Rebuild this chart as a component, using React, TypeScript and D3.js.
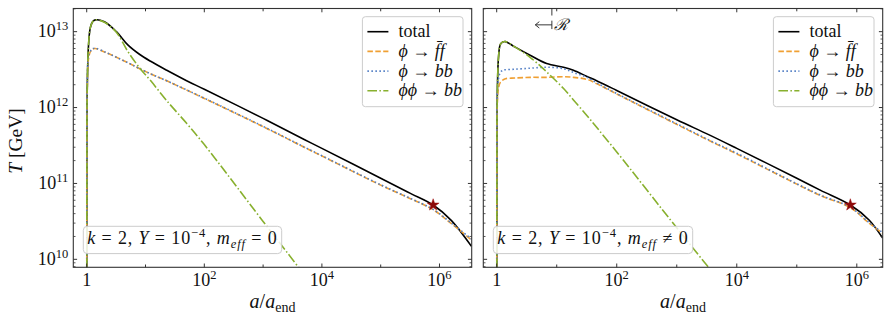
import React, { useEffect, useRef } from 'react';
import * as d3 from 'd3';

// a/a_end grid and temperatures in GeV
const aLeft = [1, 1.007, 1.02, 1.07, 1.15, 1.26, 1.4, 2, 3.2, 5, 8, 12, 23, 50, 100, 1e3, 5e3, 1e4, 1e5, 3.2e5, 7.8e5, 1.6e6, 3.5e6];
const totalLeft = [1e8, 1.0e11, 1.6e12, 6.3e12, 1.12e13, 1.35e13, 1.43e13, 1.35e13, 1.0e13, 6.7e12, 5.0e12, 4.1e12, 3.1e12, 2.26e12, 1.74e12, 7.2e11, 3.8e11, 2.9e11, 1.17e11, 7.4e10, 5.2e10, 3.24e10, 1.48e10];
const ffLeft = [1e8, 2e11, 1.6e12, 4.3e12, 5.4e12, 5.9e12, 6.0e12, 5.4e12, 4.6e12, 3.9e12, 3.25e12, 2.8e12, 2.25e12, 1.7e12, 1.32e12, 5.6e11, 3.0e11, 2.3e11, 9.5e10, 6.3e10, 4.5e10, 2.95e10, 1.8e10];
const bbLeft = [1e8, 3e11, 2.2e12, 4.6e12, 5.5e12, 5.95e12, 6.05e12, 5.45e12, 4.6e12, 3.9e12, 3.25e12, 2.8e12, 2.25e12, 1.71e12, 1.33e12, 5.65e11, 3.02e11, 2.32e11, 9.6e10, 6.35e10, 4.55e10, 3.0e10, 1.85e10];
const phiphiLeft = [1e8, 1.0e11, 1.6e12, 6.3e12, 1.12e13, 1.35e13, 1.43e13, 1.33e13, 9.8e12, 5.5e12, 3.3e12, 2.3e12, 1.23e12, 6.2e11, 3.25e11, 3.16e10, 6.3e9, null, null, null, null, null, null];

const aRight = [1, 1.007, 1.02, 1.07, 1.15, 1.26, 1.4, 2, 3.6, 6.8, 13, 19, 32, 47, 100, 1e3, 3.4e3, 1e4, 1e5, 2.5e5, 7.8e5, 1.6e6, 2.7e6];
const totalRight = [1e8, 8e10, 1.2e12, 4.5e12, 6.8e12, 7.3e12, 7.4e12, 6.3e12, 4.9e12, 3.8e12, 3.4e12, 3.1e12, 2.57e12, 2.24e12, 1.68e12, 6.9e11, 4.4e11, 2.9e11, 1.17e11, 8.1e10, 5.2e10, 3.3e10, 1.9e10];
const ffRight = [1e8, 1.3e11, 1.0e12, 1.8e12, 2.15e12, 2.3e12, 2.4e12, 2.45e12, 2.5e12, 2.5e12, 2.55e12, 2.5e12, 2.35e12, 2.05e12, 1.51e12, 6.0e11, 3.7e11, 2.45e11, 9.8e10, 6.9e10, 4.8e10, 3.0e10, 2.2e10];
const bbRight = [1e8, 2e11, 1.5e12, 2.4e12, 2.9e12, 3.1e12, 3.15e12, 3.2e12, 3.3e12, 3.4e12, 3.25e12, 2.9e12, 2.5e12, 2.1e12, 1.53e12, 6.1e11, 3.75e11, 2.5e11, 9.9e10, 7.0e10, 4.85e10, 3.05e10, 2.25e10];
const phiphiRight = [1e8, 8e10, 1.2e12, 4.5e12, 6.8e12, 7.3e12, 7.4e12, 6.3e12, 4.6e12, 2.95e12, 1.78e12, 1.26e12, 7.8e11, 5.4e11, 2.6e11, 2.6e10, 7.8e9, null, null, null, null, null, null];

// reheating point (star)
const aRH = 7.8e5;
const TRH = 5.2e10;

// arrow annotation in right panel
const annotA = [4.4, 8.3];
const annotT = 1.23e13;

const xTicks = [1, 1e1, 1e2, 1e3, 1e4, 1e5, 1e6];
const xTickExp = ['0', '1', '2', '3', '4', '5', '6'];
const yTicks = [1e10, 1e11, 1e12, 1e13];
const yTickExp = ['10', '11', '12', '13'];

const legendLabels = ['total', 'ff', 'bb', 'phiphi'];

const TOP = 8.5;
const BOTTOM = 267.3;
const yDomain = [7.85e9, 2.02e13];
const SERIF = "'Liberation Serif', 'DejaVu Serif', serif";

const styles = [
  { color: '#000000', width: 1.6, dash: null },
  { color: '#f0a033', width: 1.6, dash: '5.5,2.4' },
  { color: '#4f7cc4', width: 1.6, dash: '1.5,2.5' },
  { color: '#88b02e', width: 1.6, dash: '9.6,2.4,1.5,2.4' },
];

const panels = [
  { left: 73.3, right: 471.7, xDomain: [0.5916, 3.53e6], a: aLeft, series: [totalLeft, ffLeft, bbLeft, phiphiLeft], neq: false, yLabels: true, annot: false },
  { left: 483.3, right: 882.7, xDomain: [0.598, 2.7e6], a: aRight, series: [totalRight, ffRight, bbRight, phiphiRight], neq: true, yLabels: false, annot: true },
];

function powLabel(g: any, x: number, y: number, exp: string, anchor: string) {
  const t = g.append('text').attr('x', x).attr('y', y).attr('text-anchor', anchor)
    .attr('font-family', SERIF).attr('font-size', 18).attr('fill', '#111');
  if (exp === '0') { t.text('1'); return; }
  t.append('tspan').text('10');
  t.append('tspan').attr('dy', -7).attr('font-size', 12.5).text(exp);
}

function legendText(t: any, key: string) {
  if (key === 'total') { t.text('total'); return; }
  const it = (s: string) => t.append('tspan').attr('font-style', 'italic').text(s);
  const up = (s: string) => t.append('tspan').text(s);
  if (key === 'ff') { it('ϕ'); up(' → '); it('f\u0304f'); }
  if (key === 'bb') { it('ϕ'); up(' → '); it('bb'); }
  if (key === 'phiphi') { it('ϕϕ'); up(' → '); it('bb'); }
}

function drawPanel(svg: any, p: any, idx: number) {
  const x = d3.scaleLog().domain(p.xDomain).range([p.left, p.right]);
  const y = d3.scaleLog().domain(yDomain).range([BOTTOM, TOP]);
  const g = svg.append('g');

  const clipId = 'clip' + idx;
  svg.append('defs').append('clipPath').attr('id', clipId).append('rect')
    .attr('x', p.left).attr('y', TOP).attr('width', p.right - p.left).attr('height', BOTTOM - TOP);

  const plot = g.append('g').attr('clip-path', `url(#${clipId})`);
  const line = d3.line<any>()
    .defined((d: any) => d[1] != null)
    .x((d: any) => x(d[0]))
    .y((d: any) => y(d[1]))
    .curve(d3.curveCatmullRom.alpha(0.5));

  styles.forEach((s, k) => {
    plot.append('path')
      .datum(p.a.map((a: number, j: number) => [a, p.series[k][j]]))
      .attr('d', line)
      .attr('fill', 'none')
      .attr('stroke', s.color)
      .attr('stroke-width', s.width)
      .attr('stroke-dasharray', s.dash)
      .attr('stroke-linejoin', 'round');
  });

  g.append('path')
    .attr('d', d3.symbol(d3.symbolStar, 44)())
    .attr('transform', `translate(${x(aRH)},${y(TRH)})`)
    .attr('fill', '#8b0a0a')
    .attr('stroke', '#a01010')
    .attr('stroke-width', 0.5);

  // frame
  g.append('rect').attr('x', p.left).attr('y', TOP).attr('width', p.right - p.left).attr('height', BOTTOM - TOP)
    .attr('fill', 'none').attr('stroke', '#333').attr('stroke-width', 1.1);

  // x ticks (inward, bottom and top)
  xTicks.forEach((t, i) => {
    const len = i % 2 === 0 ? 3.8 : 2.8;
    const px = x(t);
    g.append('line').attr('x1', px).attr('x2', px).attr('y1', BOTTOM).attr('y2', BOTTOM - len).attr('stroke', '#333');
    g.append('line').attr('x1', px).attr('x2', px).attr('y1', TOP).attr('y2', TOP + len).attr('stroke', '#333');
    if (i % 2 === 0) powLabel(g, px, 286, xTickExp[i], 'middle');
  });

  // y ticks, major and minor
  yTicks.forEach((t, i) => {
    const py = y(t);
    g.append('line').attr('x1', p.left).attr('x2', p.left + 3.8).attr('y1', py).attr('y2', py).attr('stroke', '#333');
    g.append('line').attr('x1', p.right).attr('x2', p.right - 3.8).attr('y1', py).attr('y2', py).attr('stroke', '#333');
    if (p.yLabels) powLabel(g, p.left - 5, py + 5.5, yTickExp[i], 'end');
  });
  for (let e = 9; e <= 13; e++) {
    for (let m = 2; m <= 9; m++) {
      const v = m * Math.pow(10, e);
      if (v < yDomain[0] || v > yDomain[1]) continue;
      const py = y(v);
      g.append('line').attr('x1', p.left).attr('x2', p.left + 2.2).attr('y1', py).attr('y2', py).attr('stroke', '#333').attr('stroke-width', 0.8);
      g.append('line').attr('x1', p.right).attr('x2', p.right - 2.2).attr('y1', py).attr('y2', py).attr('stroke', '#333').attr('stroke-width', 0.8);
    }
  }

  // x label
  const cx = (p.left + p.right) / 2;
  const xl = g.append('text').attr('x', cx).attr('y', 308).attr('text-anchor', 'middle')
    .attr('font-family', SERIF).attr('font-size', 20).attr('fill', '#111');
  xl.append('tspan').attr('font-style', 'italic').text('a');
  xl.append('tspan').text('/');
  xl.append('tspan').attr('font-style', 'italic').text('a');
  xl.append('tspan').attr('dy', 4).attr('font-size', 14).text('end');

  if (p.yLabels) {
    const yl = g.append('text').attr('transform', 'translate(22,141) rotate(-90)').attr('text-anchor', 'middle')
      .attr('font-family', SERIF).attr('font-size', 19.5).attr('fill', '#111');
    yl.append('tspan').attr('font-style', 'italic').text('T');
    yl.append('tspan').text(' [GeV]');
  }

  // legend
  const lw = 100.6, lh = 90;
  const lx = p.right - 8.7 - lw, ly = 16.7;
  g.append('rect').attr('x', lx).attr('y', ly).attr('width', lw).attr('height', lh).attr('rx', 3)
    .attr('fill', '#fff').attr('fill-opacity', 0.85).attr('stroke', '#cccccc').attr('stroke-width', 1);
  legendLabels.forEach((key, k) => {
    const ry = ly + 15 + k * 19.7;
    const s = styles[k];
    g.append('line').attr('x1', lx + 5).attr('x2', lx + 26).attr('y1', ry).attr('y2', ry)
      .attr('stroke', s.color).attr('stroke-width', s.width).attr('stroke-dasharray', s.dash);
    const t = g.append('text').attr('x', lx + 36).attr('y', ry + 5.5).attr('font-family', SERIF)
      .attr('font-size', 18).attr('fill', '#111');
    legendText(t, key);
  });

  // parameter box
  const bx = p.left + 10, by = 226.3, bw = p.neq ? 199.4 : 198.4, bh = 27.3;
  g.append('rect').attr('x', bx).attr('y', by).attr('width', bw).attr('height', bh).attr('rx', 4)
    .attr('fill', '#fff').attr('fill-opacity', 0.85).attr('stroke', '#cccccc').attr('stroke-width', 1);
  const bt = g.append('text').attr('x', bx + 4).attr('y', by + 18).attr('textLength', bw - 9)
    .attr('lengthAdjust', 'spacing')
    .attr('font-family', SERIF).attr('font-size', 18).attr('fill', '#111');
  bt.append('tspan').attr('font-style', 'italic').text('k');
  bt.append('tspan').text(' = 2,  ');
  bt.append('tspan').attr('font-style', 'italic').text('Y');
  bt.append('tspan').text(' = 10');
  bt.append('tspan').attr('dy', -7).attr('font-size', 12.5).text('−4');
  bt.append('tspan').attr('dy', 7).text(',  ');
  bt.append('tspan').attr('font-style', 'italic').text('m');
  bt.append('tspan').attr('dy', 3.5).attr('font-size', 12.5).attr('font-style', 'italic').text('eff');
  bt.append('tspan').attr('dy', -3.5).text(p.neq ? ' ≠ 0' : ' = 0');

  if (p.annot) {
    const ax0 = x(annotA[0]), ax1 = x(annotA[1]), ay = y(annotT);
    g.append('path')
      .attr('d', `M${ax1},${ay}H${ax0}M${ax0 + 4},${ay - 3.2}L${ax0},${ay}L${ax0 + 4},${ay + 3.2}M${ax1},${ay - 4.2}V${ay + 4.2}M${ax1},${TOP}V${TOP + 7}`)
      .attr('fill', 'none').attr('stroke', '#222').attr('stroke-width', 0.9);
    g.append('text').attr('x', ax1 + 2.5).attr('y', ay + 5.5).attr('font-family', "'DejaVu Serif', serif")
      .attr('font-style', 'italic').attr('font-size', 16).attr('fill', '#222').text('ℛ');
  }
}

export default function App() {
  const ref = useRef<SVGSVGElement>(null);
  useEffect(() => {
    const svg = d3.select(ref.current);
    svg.selectAll('*').remove();
    panels.forEach((p, i) => drawPanel(svg, p, i));
  }, []);
  return (
    <svg ref={ref} width={891} height={326}
      style={{ position: 'absolute', left: 0, top: 0, background: '#fff' }} />
  );
}
